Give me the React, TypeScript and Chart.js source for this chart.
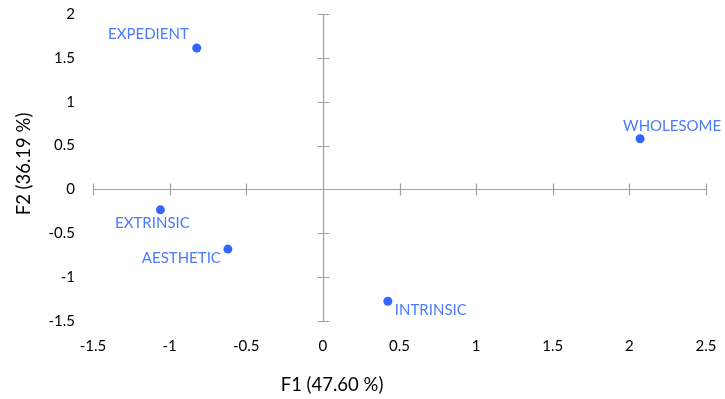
import React, { useEffect, useRef } from "react";
import { Chart, registerables } from "chart.js";

Chart.register(...registerables);

// Observations on the first two factorial axes
const names = ["EXPEDIENT", "WHOLESOME", "EXTRINSIC", "AESTHETIC", "INTRINSIC"];
const f1Values = [-0.823, 2.07, -1.06, -0.62, 0.424];
const f2Values = [1.613, 0.578, -0.233, -0.68, -1.275];

const xTitle = "F1 (47.60 %)";
const yTitle = "F2 (36.19 %)";

// Where each name sits relative to its marker: [dx, dy, textAlign]
const labelPlacement: [number, number, CanvasTextAlign][] = [
  [-8, -14, "right"],
  [-17, -13, "left"],
  [-8, 13, "center"],
  [-7, 9, "right"],
  [7, 9, "left"],
];

const FONT = "Lato, 'Open Sans', sans-serif";
const AXIS_COLOR = "#a0a0a0";
const POINT_COLOR = "#3366ff";
const LABEL_COLOR = "#4a7bff";

// Axis lines through the origin, with cross tick marks
const originAxes = {
  id: "originAxes",
  beforeDatasetsDraw(chart: any) {
    const { ctx, chartArea, scales } = chart;
    const xs = scales.x;
    const ys = scales.y;
    const x0 = Math.round(xs.getPixelForValue(0)) + 0.5;
    const y0 = Math.round(ys.getPixelForValue(0)) + 0.5;
    ctx.save();
    ctx.strokeStyle = AXIS_COLOR;
    ctx.lineWidth = 1.2;
    ctx.beginPath();
    ctx.moveTo(chartArea.left, y0);
    ctx.lineTo(chartArea.right, y0);
    ctx.moveTo(x0, chartArea.top);
    ctx.lineTo(x0, chartArea.bottom);
    const half = 6;
    xs.ticks.forEach((t: any) => {
      const px = Math.round(xs.getPixelForValue(t.value)) + 0.5;
      ctx.moveTo(px, y0 - half);
      ctx.lineTo(px, y0 + half);
    });
    ys.ticks.forEach((t: any) => {
      const py = Math.round(ys.getPixelForValue(t.value)) + 0.5;
      ctx.moveTo(x0 - half, py);
      ctx.lineTo(x0 + half, py);
    });
    ctx.stroke();
    ctx.restore();
  },
};

// Point names and axis titles
const textLayer = {
  id: "textLayer",
  afterDatasetsDraw(chart: any) {
    const { ctx } = chart;
    const meta = chart.getDatasetMeta(0);
    ctx.save();
    ctx.font = `15px ${FONT}`;
    ctx.fillStyle = LABEL_COLOR;
    ctx.textBaseline = "middle";
    meta.data.forEach((pt: any, i: number) => {
      const [dx, dy, align] = labelPlacement[i];
      ctx.textAlign = align;
      ctx.fillText(names[i], pt.x + dx, pt.y + dy);
    });

    ctx.fillStyle = "#000";
    ctx.font = `18.5px ${FONT}`;
    ctx.textAlign = "center";
    ctx.fillText(xTitle, 332, 385);
    ctx.translate(24, 164);
    ctx.rotate(-Math.PI / 2);
    ctx.fillText(yTitle, 0, 0);
    ctx.restore();
  },
};

const plainTick = (value: any) => String(value);

export default function App() {
  const canvasRef = useRef<HTMLCanvasElement | null>(null);

  useEffect(() => {
    document.body.style.margin = "0";
    const canvas = canvasRef.current;
    if (!canvas) return;
    const points = f1Values.map((x, i) => ({ x, y: f2Values[i] }));
    const chart = new Chart(canvas, {
      type: "scatter",
      data: {
        datasets: [
          {
            label: "Observations",
            data: points,
            backgroundColor: POINT_COLOR,
            borderColor: POINT_COLOR,
            pointRadius: 4.5,
            pointHoverRadius: 4.5,
            borderWidth: 0,
          },
        ],
      },
      options: {
        animation: false,
        responsive: false,
        maintainAspectRatio: false,
        layout: { padding: { left: 0, top: 14, right: 19, bottom: 0 } },
        plugins: {
          legend: { display: false },
          tooltip: { enabled: false },
        },
        scales: {
          x: {
            type: "linear",
            min: -1.5,
            max: 2.5,
            // tick marks are hidden with the grid; their length only spaces the labels
            grid: { display: false, drawTicks: true, tickLength: 16 },
            border: { display: false },
            ticks: {
              stepSize: 0.5,
              color: "#000",
              font: { family: FONT, size: 15 },
              padding: 0,
              maxRotation: 0,
              callback: plainTick,
            },
            afterFit(scale: any) {
              scale.height = 78;
            },
          },
          y: {
            type: "linear",
            min: -1.5,
            max: 2,
            grid: { display: false, drawTicks: true, tickLength: 18 },
            border: { display: false },
            ticks: {
              stepSize: 0.5,
              color: "#000",
              font: { family: FONT, size: 15 },
              padding: 0,
              callback: plainTick,
            },
            afterFit(scale: any) {
              scale.width = 93;
            },
          },
        },
      },
      plugins: [originAxes, textLayer],
    });
    return () => chart.destroy();
  }, []);

  return (
    <div style={{ position: "relative", width: 725, height: 399 }}>
      <canvas ref={canvasRef} width={725} height={399} />
    </div>
  );
}
